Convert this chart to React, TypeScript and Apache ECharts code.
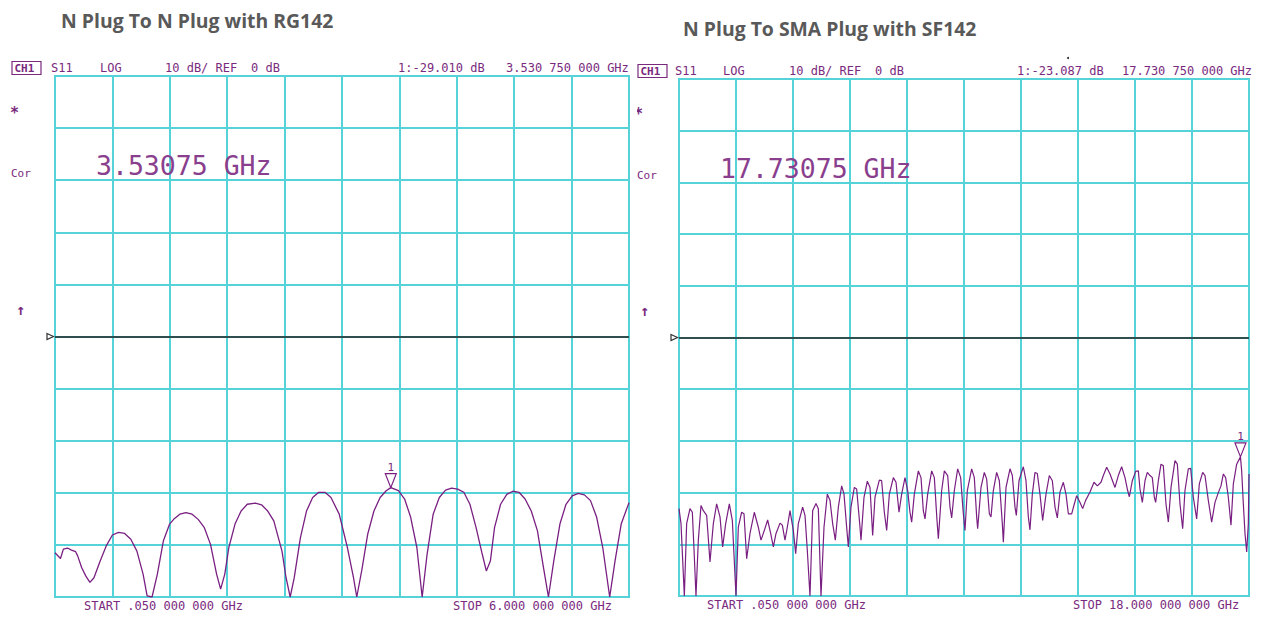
import React, { useEffect, useRef } from "react";
import * as echarts from "echarts";

// ---- data ----
const leftTitle = "N Plug To N Plug with RG142";
const rightTitle = "N Plug To SMA Plug with SF142";

const leftRange = [0.05, 6.0];
const rightRange = [0.05, 18.0];
const dbRange = [-50, 50];

const leftMarker = [3.53075, -29.01];
const rightMarker = [17.73075, -23.087];

const leftFreq = [
  0.05, 0.107, 0.137, 0.179, 0.221, 0.264, 0.285, 0.327, 0.37, 0.412,
  0.454, 0.518, 0.581, 0.645, 0.708, 0.772, 0.836, 0.899, 0.963, 1.005,
  1.056, 1.111, 1.174, 1.238, 1.28, 1.344, 1.407, 1.471, 1.534, 1.598,
  1.662, 1.725, 1.767, 1.81, 1.852, 1.916, 1.979, 2.043, 2.127, 2.191,
  2.255, 2.318, 2.403, 2.445, 2.488, 2.53, 2.594, 2.657, 2.721, 2.784,
  2.848, 2.911, 2.996, 3.081, 3.144, 3.178, 3.229, 3.292, 3.356, 3.42,
  3.483, 3.531, 3.61, 3.674, 3.737, 3.801, 3.856, 3.907, 3.97, 4.034,
  4.098, 4.161, 4.224, 4.288, 4.351, 4.415, 4.479, 4.521, 4.563, 4.606,
  4.669, 4.733, 4.796, 4.86, 4.923, 4.987, 5.051, 5.114, 5.165, 5.22,
  5.284, 5.347, 5.411, 5.474, 5.538, 5.601, 5.665, 5.728, 5.8, 5.855,
  5.919, 5.982, 6.0,
];
const leftDb = [
  -41.5, -42.6, -40.8, -40.6, -41.0, -41.3, -42.1, -44.4, -46.0, -47.2,
  -46.3, -43.1, -40.2, -38.1, -37.6, -37.8, -38.9, -41.2, -45.6, -49.8,
  -50, -45.6, -39.2, -36.0, -35.1, -34.1, -33.8, -34.1, -35.1, -36.7,
  -39.9, -45.6, -48.5, -45.6, -40.5, -36.0, -33.5, -32.2, -32.0, -32.3,
  -33.5, -35.4, -41.2, -46.3, -50, -46.3, -38.6, -33.5, -30.9, -29.9,
  -29.9, -30.9, -34.1, -40.5, -46.3, -50, -45.0, -37.9, -33.5, -30.9,
  -29.6, -29.0, -29.6, -31.2, -34.7, -40.5, -50, -41.8, -34.1, -30.9,
  -29.5, -29.1, -29.3, -29.9, -32.2, -36.7, -41.8, -45.0, -43.1, -36.7,
  -32.2, -30.3, -29.7, -29.9, -31.2, -33.5, -37.3, -44.4, -50, -43.1,
  -36.0, -32.2, -30.6, -30.1, -30.4, -31.5, -34.7, -40.5, -50, -43.1,
  -36.0, -32.8, -31.9,
];

const rightFreq = [
  0.05, 0.113, 0.218, 0.291, 0.396, 0.47, 0.533, 0.585, 0.659, 0.743,
  0.816, 0.921, 1.026, 1.131, 1.236, 1.341, 1.425, 1.52, 1.635, 1.73,
  1.845, 1.918, 2.023, 2.097, 2.181, 2.286, 2.422, 2.548, 2.632, 2.737,
  2.842, 2.937, 3.021, 3.105, 3.231, 3.304, 3.388, 3.461, 3.546, 3.65,
  3.724, 3.808, 3.944, 4.018, 4.091, 4.175, 4.259, 4.364, 4.438, 4.522,
  4.616, 4.721, 4.805, 4.889, 4.973, 5.068, 5.173, 5.246, 5.33, 5.383,
  5.466, 5.571, 5.645, 5.75, 5.781, 5.876, 5.981, 6.065, 6.149, 6.222,
  6.359, 6.432, 6.516, 6.59, 6.674, 6.8, 6.884, 6.978, 7.062, 7.167,
  7.251, 7.324, 7.377, 7.461, 7.587, 7.671, 7.744, 7.797, 7.881, 8.007,
  8.091, 8.175, 8.217, 8.322, 8.406, 8.511, 8.584, 8.637, 8.721, 8.826,
  8.92, 9.004, 9.056, 9.13, 9.266, 9.35, 9.424, 9.455, 9.56, 9.665,
  9.739, 9.823, 9.875, 9.949, 10.054, 10.138, 10.232, 10.264, 10.348, 10.474,
  10.547, 10.631, 10.673, 10.757, 10.893, 10.977, 11.051, 11.103, 11.177, 11.261,
  11.334, 11.418, 11.502, 11.607, 11.712, 11.807, 11.891, 11.964, 12.048, 12.153,
  12.237, 12.311, 12.416, 12.499, 12.573, 12.678, 12.762, 12.856, 12.993, 13.119,
  13.224, 13.339, 13.413, 13.518, 13.623, 13.78, 13.885, 13.99, 14.095, 14.179,
  14.232, 14.326, 14.431, 14.515, 14.567, 14.641, 14.725, 14.798, 14.882, 14.956,
  15.019, 15.061, 15.145, 15.229, 15.302, 15.386, 15.46, 15.544, 15.67, 15.743,
  15.827, 15.911, 15.984, 16.089, 16.163, 16.247, 16.352, 16.436, 16.541, 16.614,
  16.719, 16.824, 16.929, 17.034, 17.118, 17.192, 17.265, 17.349, 17.433, 17.507,
  17.612, 17.731, 17.769, 17.822, 17.874, 17.927, 17.979, 18.0,
];
const rightDb = [
  -33.1, -36.0, -50, -36.0, -33.1, -33.8, -42.4, -50, -39.2, -32.5,
  -33.5, -34.4, -43.4, -36.0, -32.2, -34.7, -40.5, -36.0, -32.2, -35.4,
  -50, -36.7, -33.8, -34.1, -42.8, -37.9, -33.8, -36.7, -39.2, -37.3,
  -35.3, -37.9, -40.5, -37.9, -35.9, -36.3, -39.2, -36.7, -33.5, -37.3,
  -41.8, -36.0, -32.8, -34.4, -41.2, -50, -33.5, -32.1, -33.1, -50,
  -36.7, -30.3, -31.5, -36.0, -39.2, -32.8, -28.7, -30.3, -36.7, -40.5,
  -32.8, -29.0, -29.3, -36.7, -39.2, -30.9, -27.8, -29.0, -38.3, -30.9,
  -27.6, -27.7, -33.8, -37.3, -30.3, -27.1, -28.0, -33.8, -30.3, -27.1,
  -29.6, -33.8, -35.7, -30.3, -25.8, -27.1, -33.5, -35.1, -30.3, -25.8,
  -27.1, -35.4, -38.9, -29.6, -25.8, -26.7, -32.8, -34.9, -29.6, -25.4,
  -27.1, -34.1, -37.3, -29.6, -25.4, -27.1, -34.7, -37.0, -29.0, -26.1,
  -27.4, -34.1, -34.7, -29.6, -26.1, -27.7, -36.0, -39.6, -29.0, -25.4,
  -26.7, -32.8, -34.4, -27.7, -25.0, -27.7, -34.7, -37.2, -30.3, -26.1,
  -26.3, -30.3, -35.4, -30.3, -26.7, -27.7, -32.8, -34.9, -29.9, -28.0,
  -30.3, -34.1, -34.1, -32.2, -30.6, -31.9, -33.1, -31.5, -29.9, -28.0,
  -28.7, -28.0, -26.7, -25.1, -26.4, -29.0, -26.7, -25.0, -27.1, -29.6,
  -30.8, -27.7, -25.9, -25.8, -29.3, -31.9, -27.7, -26.1, -26.7, -27.1,
  -30.9, -31.9, -27.7, -24.5, -24.8, -32.2, -35.7, -29.0, -23.8, -24.5,
  -32.2, -37.0, -29.6, -25.4, -25.3, -30.9, -35.1, -28.3, -26.1, -26.7,
  -31.5, -35.7, -31.9, -30.0, -28.7, -26.4, -27.1, -30.9, -36.3, -28.3,
  -24.5, -23.09, -25.8, -32.2, -37.9, -41.5, -36.0, -26.4,
];

// ---- styles ----
const GRID_COLOR = "#55d3d8";
const TRACE = "#7a1f82";
const TXT = "#7a2a7e";
const MONO = '"DejaVu Sans Mono", monospace';

const pair = (xs: number[], ys: number[]) => xs.map((x, i) => [x, ys[i]]);

function txt(x: number, y: number, s: string, size = 12, opts: any = {}) {
  return {
    type: "text",
    x,
    y,
    z: 10,
    style: {
      text: s,
      fill: opts.fill || TXT,
      fontSize: size,
      fontFamily: opts.font || MONO,
      fontWeight: opts.weight || "normal",
      verticalAlign: "middle",
      align: opts.align || "left",
    },
  };
}

function chBox(x: number, y: number) {
  return [
    {
      type: "rect",
      z: 10,
      shape: { x, y: y - 6.5, width: 29, height: 13 },
      style: { fill: "none", stroke: TXT, lineWidth: 1.2 },
    },
    txt(x + 2.5, y + 0.5, "CH1", 11, { weight: "bold" }),
  ];
}

export default function App() {
  const ref = useRef<HTMLDivElement>(null);

  useEffect(() => {
    if (!ref.current) return;
    const chart = echarts.init(ref.current, undefined, { renderer: "svg" });

    const gridCommon = {
      show: true,
      borderColor: GRID_COLOR,
      borderWidth: 2,
      containLabel: false,
    };
    const splitStyle = { show: true, lineStyle: { color: GRID_COLOR, width: 2 } };

    const dataAxis = (gi: number, range: number[]) => ({
      type: "value",
      gridIndex: gi,
      min: range[0],
      max: range[1],
      show: false,
      splitLine: { show: false },
    });
    const divAxis = (gi: number) => ({
      type: "value",
      gridIndex: gi,
      min: 0,
      max: 10,
      interval: 1,
      axisLine: { show: false },
      axisTick: { show: false },
      axisLabel: { show: false },
      splitLine: splitStyle,
    });
    const yAxis = (gi: number) => ({
      type: "value",
      gridIndex: gi,
      min: dbRange[0],
      max: dbRange[1],
      interval: 10,
      axisLine: { show: false },
      axisTick: { show: false },
      axisLabel: { show: false },
      splitLine: splitStyle,
    });

    const markerPoint = (coord: number[]) => ({
      symbol: "path://M0,0L12,0L6,14Z",
      symbolSize: [11, 14],
      symbolOffset: [0, -7],
      silent: true,
      itemStyle: { color: "#ffffff", borderColor: TRACE, borderWidth: 1.2 },
      label: {
        show: true,
        position: "top",
        distance: 0,
        formatter: "1",
        color: TXT,
        fontSize: 11,
        fontFamily: MONO,
      },
      data: [{ coord }],
    });
    const refLine = {
      silent: true,
      symbol: ["none", "none"],
      label: { show: false },
      lineStyle: { color: "#222222", width: 1.5, type: "solid" },
      data: [{ yAxis: 0 }],
    };

    const TITLE = { font: '"Open Sans"', weight: "bold", fill: "#595959" };
    const BIG = { fill: "#8a3f8e" };

    const graphic: any[] = [
      txt(61, 20, leftTitle, 19.4, TITLE),
      txt(683, 28, rightTitle, 19.4, TITLE),
      // left header
      ...chBox(12, 68),
      txt(51, 68, "S11"),
      txt(100, 68, "LOG"),
      txt(165, 68, "10 dB/ REF"),
      txt(251, 68, "0 dB"),
      txt(398, 68, "1:-29.010 dB"),
      txt(506, 68, "3.530 750 000 GHz"),
      // right header
      ...chBox(638, 71),
      txt(675, 71, "S11"),
      txt(723, 71, "LOG"),
      txt(789, 71, "10 dB/ REF"),
      txt(875, 71, "0 dB"),
      txt(1017, 71, "1:-23.087 dB"),
      txt(1122, 71, "17.730 750 000 GHz"),
      // footers
      txt(84, 606, "START .050 000 000 GHz"),
      txt(453, 606, "STOP 6.000 000 000 GHz"),
      txt(707, 605, "START .050 000 000 GHz"),
      txt(1073, 605, "STOP 18.000 000 000 GHz"),
      // big marker readouts
      txt(96, 165, "3.53075 GHz", 26.5, BIG),
      txt(720, 168, "17.73075 GHz", 26.5, BIG),
      // side annotations
      txt(10, 113, "*", 15, { weight: "bold" }),
      txt(11, 173, "Cor", 11),
      txt(16, 310, "\u2191", 15, { weight: "bold" }),
      txt(634, 114, "*", 15, { weight: "bold" }),
      txt(637, 175, "Cor", 11),
      txt(640, 311, "\u2191", 15, { weight: "bold" }),
      {
        type: "rect",
        z: 11,
        shape: { x: 631, y: 104, width: 6, height: 18 },
        style: { fill: "#ffffff" },
      },
      // reference position markers
      {
        type: "polygon",
        z: 10,
        shape: { points: [[47, 333.5], [53.5, 336.5], [47, 339.5]] },
        style: { fill: "#ffffff", stroke: "#333333", lineWidth: 1.2 },
      },
      {
        type: "polygon",
        z: 10,
        shape: { points: [[671, 334.5], [677.5, 337.5], [671, 340.5]] },
        style: { fill: "#ffffff", stroke: "#333333", lineWidth: 1.2 },
      },
      {
        type: "circle",
        z: 10,
        shape: { cx: 1068, cy: 58, r: 1 },
        style: { fill: "#222222" },
      },
    ];

    chart.setOption({
      animation: false,
      backgroundColor: "#ffffff",
      grid: [
        { ...gridCommon, left: 55, right: 1286 - 629, top: 76, bottom: 626 - 597 },
        { ...gridCommon, left: 679, right: 1286 - 1249, top: 79, bottom: 626 - 596 },
      ],
      xAxis: [dataAxis(0, leftRange), divAxis(0), dataAxis(1, rightRange), divAxis(1)],
      yAxis: [yAxis(0), yAxis(1)],
      series: [
        {
          type: "line",
          xAxisIndex: 0,
          yAxisIndex: 0,
          data: pair(leftFreq, leftDb),
          showSymbol: false,
          symbol: "none",
          lineStyle: { color: TRACE, width: 1.3 },
          markLine: refLine,
          markPoint: markerPoint(leftMarker),
          z: 5,
        },
        {
          type: "line",
          xAxisIndex: 2,
          yAxisIndex: 1,
          data: pair(rightFreq, rightDb),
          showSymbol: false,
          symbol: "none",
          lineStyle: { color: TRACE, width: 1.2 },
          markLine: refLine,
          markPoint: markerPoint(rightMarker),
          z: 5,
        },
      ],
      graphic,
    });

    return () => chart.dispose();
  }, []);

  return (
    <div
      ref={ref}
      style={{ position: "absolute", left: 0, top: 0, width: 1286, height: 626, background: "#fff" }}
    />
  );
}
